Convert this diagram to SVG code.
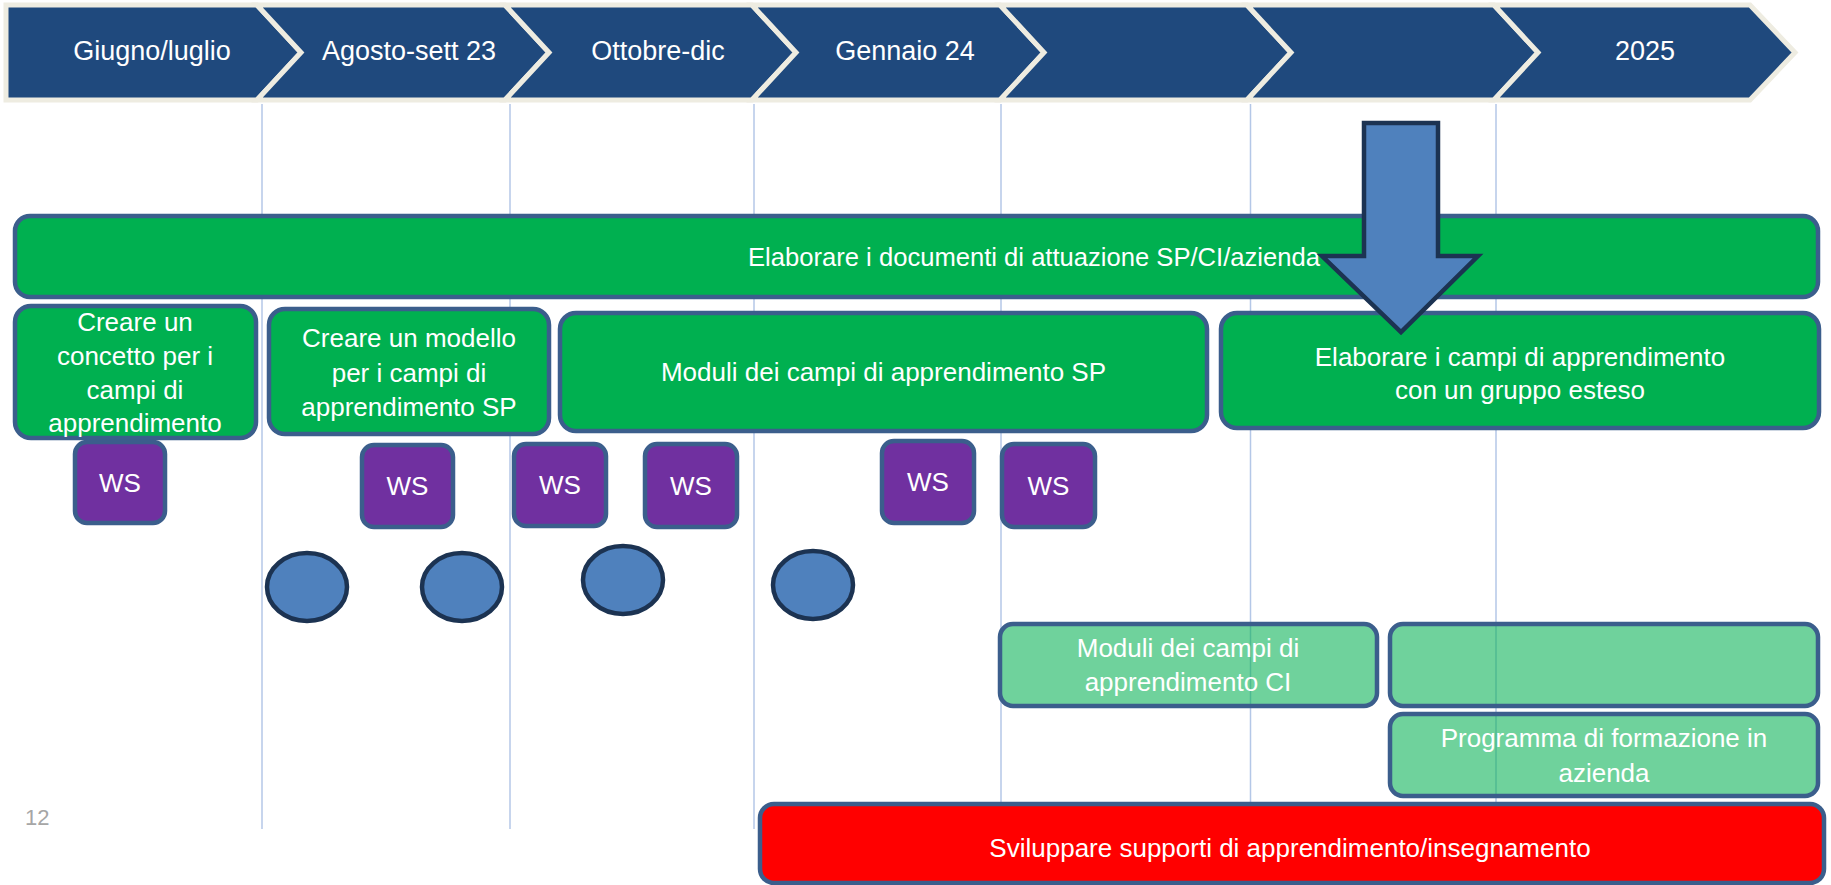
<svg xmlns="http://www.w3.org/2000/svg" width="1831" height="885" viewBox="0 0 1831 885">
<style>
text{font-family:"Liberation Sans",Arial,sans-serif;fill:#fff;text-anchor:middle}
.hdr{font-size:27px}
.lbl{font-size:26px}
.chev{fill:#1F497D;stroke:#EEECE1;stroke-width:5;stroke-linejoin:miter}
.grid{stroke:#B4C7E7;stroke-width:1.5}
.box{fill:#00B050;stroke:#3B5E8C;stroke-width:4.5}
.lbox{fill:#00B050;fill-opacity:0.565;stroke:#3B5E8C;stroke-width:4.5}
.red{fill:#FF0000;stroke:#3B5E8C;stroke-width:4.5}
.ws{fill:#7030A0;stroke:#3B5E8C;stroke-width:4.5}
.blob{fill:#4F81BD;stroke:#1C3352;stroke-width:4.5}
.pg{fill:#A6A6A6;font-size:22px;text-anchor:start}
</style>
<rect width="1831" height="885" fill="#fff"/>
<g id="timeline">
<g id="chev-giugno"><polygon class="chev" points="6,5 257,5 301,52.5 257,100 6,100"/><text class="hdr" x="152" y="60">Giugno/luglio</text></g>
<g id="chev-agosto"><polygon class="chev" points="257,5 505,5 549,52.5 505,100 257,100 301,52.5"/><text class="hdr" x="409" y="60">Agosto-sett 23</text></g>
<g id="chev-ottobre"><polygon class="chev" points="505,5 752,5 796,52.5 752,100 505,100 549,52.5"/><text class="hdr" x="658" y="60">Ottobre-dic</text></g>
<g id="chev-gennaio"><polygon class="chev" points="752,5 1000,5 1044,52.5 1000,100 752,100 796,52.5"/><text class="hdr" x="905" y="60">Gennaio 24</text></g>
<g id="chev-5"><polygon class="chev" points="1000,5 1247,5 1291,52.5 1247,100 1000,100 1044,52.5"/></g>
<g id="chev-6"><polygon class="chev" points="1247,5 1494,5 1538,52.5 1494,100 1247,100 1291,52.5"/></g>
<g id="chev-2025"><polygon class="chev" points="1494,5 1750,5 1795,52.5 1750,100 1494,100 1538,52.5"/><text class="hdr" x="1645" y="60">2025</text></g>
</g>
<g id="gridlines">
<line class="grid" x1="262" y1="104" x2="262" y2="829"/>
<line class="grid" x1="510" y1="104" x2="510" y2="829"/>
<line class="grid" x1="754" y1="104" x2="754" y2="829"/>
<line class="grid" x1="1001" y1="104" x2="1001" y2="829"/>
<line class="grid" x1="1250.5" y1="104" x2="1250.5" y2="829"/>
<line class="grid" x1="1496" y1="104" x2="1496" y2="829"/>
</g>
<g id="bar-documenti"><rect class="box" x="15" y="216" width="1803" height="81" rx="15"/><text class="lbl" x="1034" y="266" style="font-size:25.6px">Elaborare i documenti di attuazione SP/CI/azienda</text></g>
<g id="box-concetto"><rect class="box" x="15" y="306" width="241" height="132" rx="16"/>
<text class="lbl" x="135" y="331">Creare un</text><text class="lbl" x="135" y="365">concetto per i</text><text class="lbl" x="135" y="399">campi di</text><text class="lbl" x="135" y="432">apprendimento</text></g>
<g id="box-modello"><rect class="box" x="269" y="309" width="280" height="125" rx="16"/>
<text class="lbl" x="409" y="347">Creare un modello</text><text class="lbl" x="409" y="382">per i campi di</text><text class="lbl" x="409" y="416">apprendimento SP</text></g>
<g id="box-moduli-sp"><rect class="box" x="560" y="313" width="647" height="118" rx="16"/><text class="lbl" x="883.5" y="381">Moduli dei campi di apprendimento SP</text></g>
<g id="box-elaborare"><rect class="box" x="1221" y="313" width="598" height="115" rx="16"/>
<text class="lbl" x="1520" y="366">Elaborare i campi di apprendimento</text><text class="lbl" x="1520" y="399">con un gruppo esteso</text></g>
<g id="ws-1"><rect class="ws" x="75" y="442" width="90" height="81" rx="12"/><text class="lbl" x="120" y="492">WS</text></g>
<g id="ws-2"><rect class="ws" x="362" y="445" width="91" height="82" rx="12"/><text class="lbl" x="407.5" y="495">WS</text></g>
<g id="ws-3"><rect class="ws" x="514" y="444" width="92" height="82" rx="12"/><text class="lbl" x="560" y="494">WS</text></g>
<g id="ws-4"><rect class="ws" x="645" y="444" width="92" height="83" rx="12"/><text class="lbl" x="691" y="495">WS</text></g>
<g id="ws-5"><rect class="ws" x="882" y="441" width="92" height="82" rx="12"/><text class="lbl" x="928" y="491">WS</text></g>
<g id="ws-6"><rect class="ws" x="1002" y="444" width="93" height="83" rx="12"/><text class="lbl" x="1048.5" y="495">WS</text></g>
<g id="oval-1"><ellipse class="blob" cx="307" cy="587" rx="40" ry="34"/></g>
<g id="oval-2"><ellipse class="blob" cx="462" cy="587" rx="40" ry="34"/></g>
<g id="oval-3"><ellipse class="blob" cx="623" cy="580" rx="40" ry="34"/></g>
<g id="oval-4"><ellipse class="blob" cx="813" cy="585" rx="40" ry="34"/></g>
<g id="box-moduli-ci"><rect class="lbox" x="1000" y="624" width="377" height="82" rx="13"/>
<text class="lbl" x="1188" y="657">Moduli dei campi di</text><text class="lbl" x="1188" y="691">apprendimento CI</text></g>
<g id="box-empty"><rect class="lbox" x="1390" y="624" width="428" height="82" rx="13"/></g>
<g id="box-programma"><rect class="lbox" x="1390" y="714" width="428" height="82" rx="13"/>
<text class="lbl" x="1604" y="747">Programma di formazione in</text><text class="lbl" x="1604" y="782">azienda</text></g>
<g id="bar-supporti"><rect class="red" x="760" y="804" width="1064" height="79" rx="14"/><text class="lbl" x="1290" y="857">Sviluppare supporti di apprendimento/insegnamento</text></g>
<g id="big-arrow"><polygon class="blob" stroke-linejoin="miter" points="1364,123 1438,123 1438,256 1478,256 1401,332 1322,256 1364,256"/></g>
<g id="page-number"><text class="pg" x="25" y="825">12</text></g>
</svg>
